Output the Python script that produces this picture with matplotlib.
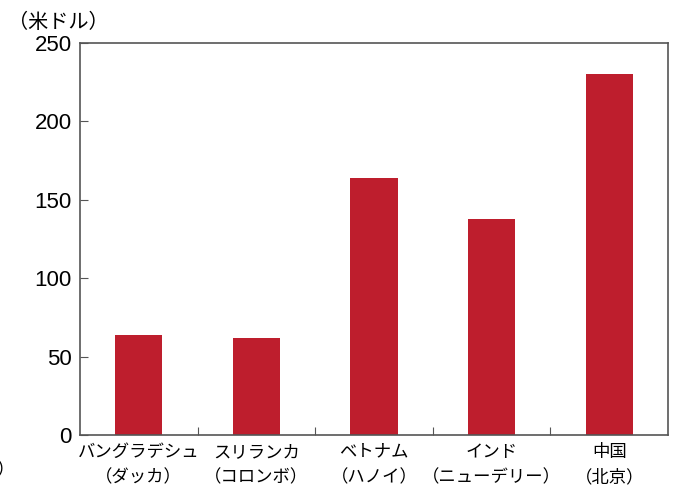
import matplotlib.pyplot as plt

categories = ["バングラデシュ\n（ダッカ）", "スリランカ\n（コロンボ）", "ベトナム\n（ハノイ）",
              "インド\n（ニューデリー）", "中国\n（北京）"]
values = [64, 62, 164, 138, 230]
yticks = [0, 50, 100, 150, 200, 250]

plt.rcParams["font.family"] = ["Noto Sans CJK JP", "DejaVu Sans"]

fig = plt.figure(figsize=(6.73, 4.88), dpi=100)
ax = fig.add_axes([80 / 673, 1 - 435 / 488, 588 / 673, 392 / 488])

x = range(len(categories))
ax.bar(x, values, width=0.4, color="#be1e2d", zorder=2)

ax.set_xlim(-0.5, len(categories) - 0.5)
ax.set_ylim(0, 250)
ax.set_yticks(yticks)
ax.set_yticklabels([str(v) for v in yticks], family="Liberation Sans", fontsize=16)
ax.set_xticks([i + 0.5 for i in range(len(categories) - 1)])
ax.set_xticklabels([])
ax.tick_params(axis="x", direction="in", length=6, color="#555555")
ax.tick_params(axis="y", direction="in", length=6, color="#555555", pad=6)

for i, lab in enumerate(categories):
    ax.text(i, -5, lab, ha="center", va="top", fontsize=12.5, linespacing=1.5,
            transform=ax.transData)

for s in ax.spines.values():
    s.set_color("#555555")
    s.set_linewidth(1.2)

fig.text(8 / 673, 1 - 22 / 488, "（米ドル）", fontsize=14.5, va="center", ha="left")
fig.text(-4 / 673, 1 - 470 / 488, "）", fontsize=13, va="center", ha="left")

fig.savefig("out.png", dpi=100)
